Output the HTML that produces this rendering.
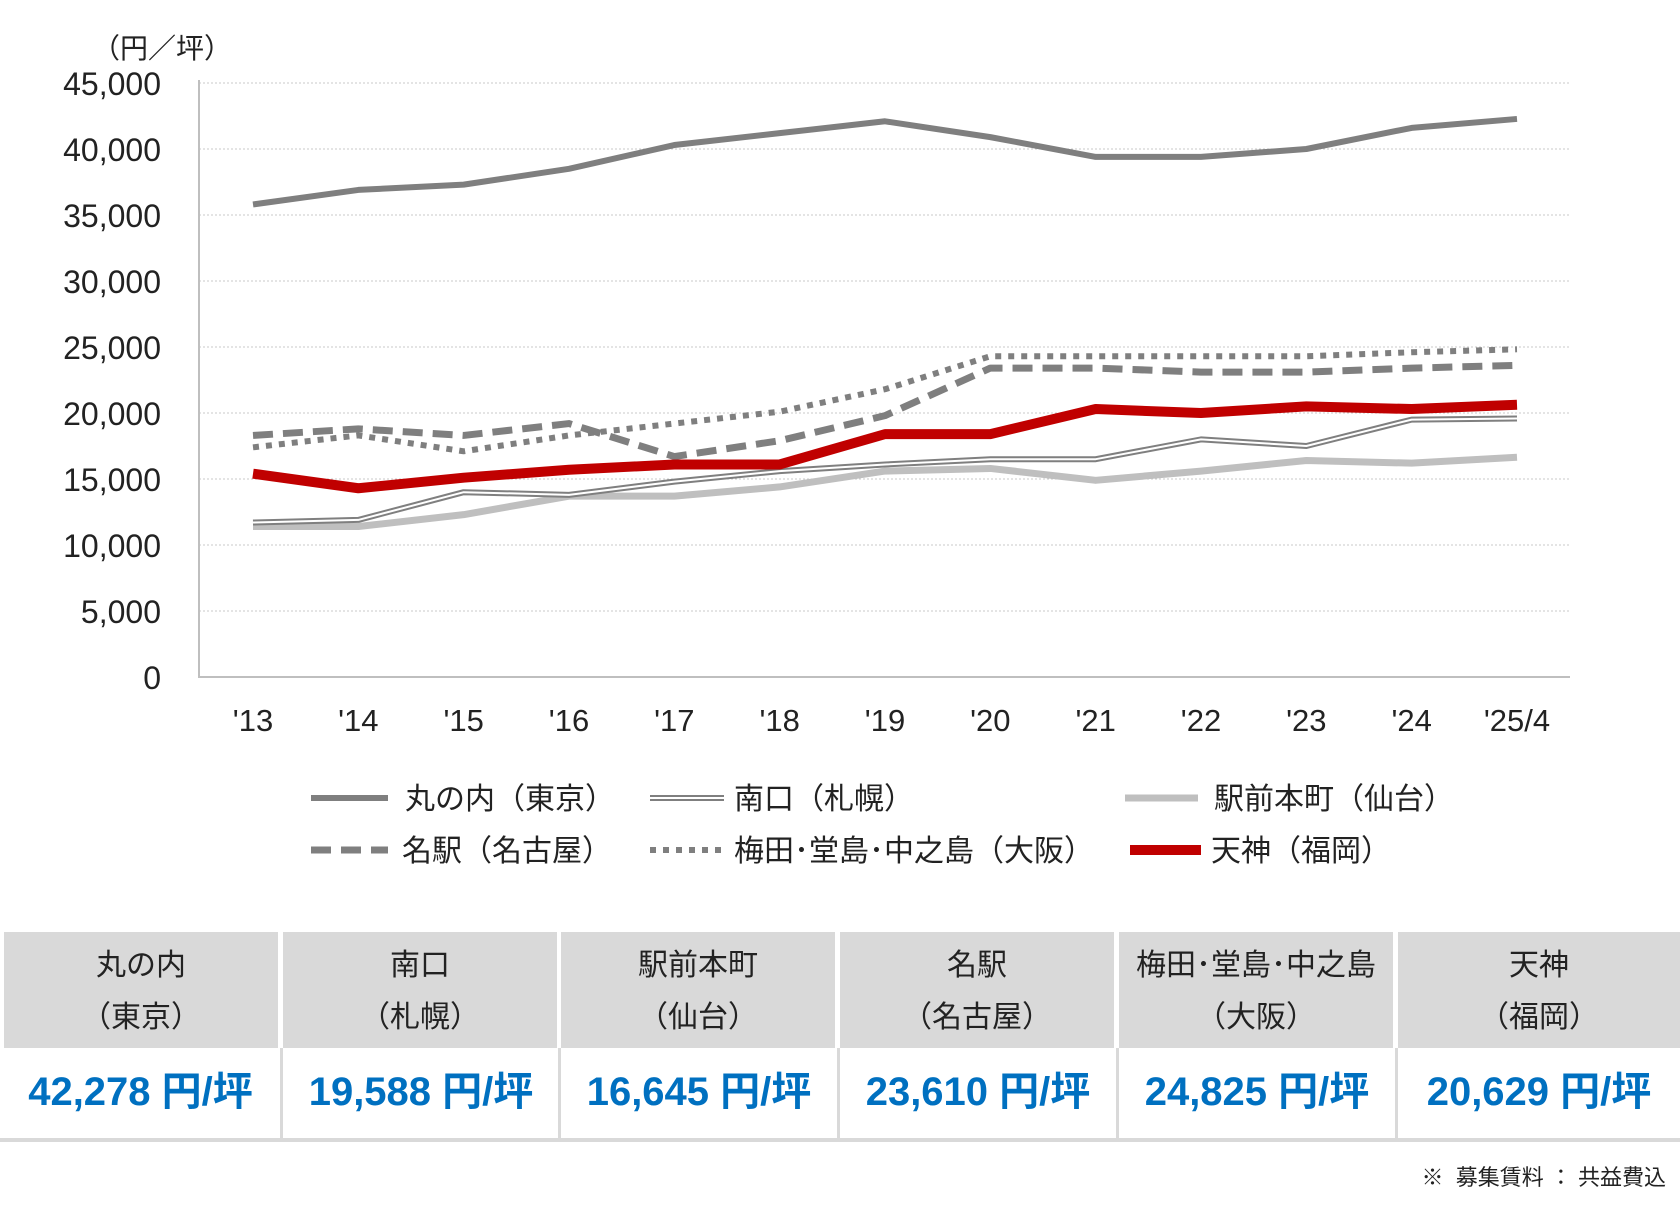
<!DOCTYPE html>
<html><head><meta charset="utf-8"><style>
body{margin:0;width:1680px;height:1220px;background:#fff;overflow:hidden;font-family:"Liberation Sans","Noto Sans CJK JP",sans-serif;}
svg text{font-family:"Liberation Sans","Noto Sans CJK JP",sans-serif;}
.tbl{position:absolute;left:0;top:932px;width:1680px;}
.cell{position:absolute;text-align:center;}
.hd{background:#d9d9d9;top:0;height:116px;color:#222;font-size:30px;line-height:52px;padding-top:8px;box-sizing:border-box;}
.vl{top:116px;height:92px;color:#0070c0;font-size:40px;font-weight:bold;line-height:88px;border-left:3px solid #d9d9d9;box-sizing:border-box;}
</style></head><body>
<svg id="chart" width="1680" height="900" style="position:absolute;left:0;top:0"></svg>
<div class="tbl" id="tbl"></div>
<div style="position:absolute;left:0;top:1138px;width:1680px;height:4px;background:#d9d9d9"></div>
<div style="position:absolute;right:14px;top:1160px;font-size:22px;color:#222">※&nbsp; 募集賃料 ： 共益費込</div>
<script>
const years=["'13","'14","'15","'16","'17","'18","'19","'20","'21","'22","'23","'24","'25/4"];
const yTicks=[0,5000,10000,15000,20000,25000,30000,35000,40000,45000];
const marunouchi=[35800,36900,37300,38500,40300,41200,42100,40900,39400,39400,40000,41600,42278];
const sapporo=[11700,11900,14000,13800,14800,15600,16100,16500,16500,18000,17500,19500,19588];
const sendai=[11400,11400,12300,13700,13700,14400,15600,15800,14900,15600,16400,16200,16645];
const nagoya=[18300,18800,18300,19200,16700,17900,19800,23400,23400,23100,23100,23400,23610];
const osaka=[17400,18300,17100,18300,19200,20100,21800,24300,24300,24300,24300,24600,24825];
const tenjin=[15400,14300,15100,15700,16100,16100,18400,18400,20300,20000,20500,20300,20629];
const tableNames=[["丸の内","（東京）"],["南口","（札幌）"],["駅前本町","（仙台）"],["名駅","（名古屋）"],["梅田･堂島･中之島","（大阪）"],["天神","（福岡）"]];
const tableValues=["42,278 円/坪","19,588 円/坪","16,645 円/坪","23,610 円/坪","24,825 円/坪","20,629 円/坪"];

const NS="http://www.w3.org/2000/svg",svg=document.getElementById('chart');
const X0=199,X1=1570,Y0=677,Y45=83;
const xs=i=>253+i*(1517-253)/(years.length-1);
const ys=v=>Y0-(v/45000)*(Y0-Y45);
function mk(t,a,p){const e=document.createElementNS(NS,t);for(const k in a)e.setAttribute(k,a[k]);(p||svg).appendChild(e);return e;}
yTicks.forEach(v=>{
  if(v>0){const g=mk('line',{x1:X0,x2:X1,y1:ys(v),y2:ys(v),stroke:'#c8c8c8','stroke-width':1,'stroke-dasharray':'2,2'});
  
  }
  const t=mk('text',{x:161,y:ys(v)+12,'text-anchor':'end','font-size':32,fill:'#222'});
  
  
  t.textContent=v.toLocaleString('en-US');
});
const ax=mk('path',{d:`M${X0},${Y45-3}V${Y0}H${X1}`,fill:'none',stroke:'#bfbfbf','stroke-width':2});


const ut=mk('text',{x:92,y:58,'font-size':28,fill:'#222'});


ut.textContent='（円／坪）';
years.forEach((y,i)=>{const t=mk('text',{x:xs(i),y:731,'text-anchor':'middle','font-size':31,fill:'#222'});
  
  
  t.textContent=y;});
function pts(a){return a.map((v,i)=>xs(i)+','+ys(v)).join(' ');}
function line(a,st,name){const p=mk('polyline',Object.assign({points:pts(a),fill:'none','stroke-linejoin':'round'},st));
  
  return p;}
const S={
 sendai:{stroke:'#bfbfbf','stroke-width':7},
 sapporo:{stroke:'#7f7f7f','stroke-width':6},
 sapIn:{stroke:'#fff','stroke-width':2},
 maru:{stroke:'#7f7f7f','stroke-width':6},
 nagoya:{stroke:'#7f7f7f','stroke-width':7,'stroke-dasharray':'20,10'},
 osaka:{stroke:'#7f7f7f','stroke-width':6,'stroke-dasharray':'6,7'},
 tenjin:{stroke:'#c00000','stroke-width':10}
};
line(sendai,S.sendai,'line-sendai');
line(sapporo,S.sapporo,'line-sapporo');
line(sapporo,S.sapIn,'line-sapporo-inner');
line(marunouchi,S.maru,'line-marunouchi');
line(nagoya,S.nagoya,'line-nagoya');
line(osaka,S.osaka,'line-osaka');
line(tenjin,S.tenjin,'line-tenjin');
const leg=[
 [311,388,405,798,'丸の内（東京）',[S.maru]],
 [650,724,734,798,'南口（札幌）',[S.sapporo,S.sapIn]],
 [1125,1198,1214,798,'駅前本町（仙台）',[S.sendai]],
 [311,388,402,850,'名駅（名古屋）',[S.nagoya]],
 [650,724,734,850,'梅田･堂島･中之島（大阪）',[S.osaka]],
 [1130,1201,1211,850,'天神（福岡）',[S.tenjin]]];
leg.forEach(l=>{
  const g=mk('g',{});
  
  
  l[5].forEach(st=>mk('line',Object.assign({x1:l[0],x2:l[1],y1:l[3],y2:l[3]},st),g));
  const t=mk('text',{x:l[2],y:l[3]+11,'font-size':30,fill:'#222'},g);t.textContent=l[4];
});
const tb=document.getElementById('tbl');
const colL=[4,283,561,840,1119,1398],colW=274;
tableNames.forEach((n,i)=>{
  const h=document.createElement('div');h.className='cell hd';
  
  
  h.style.left=colL[i]+'px';h.style.width=(i==5?1680-colL[i]:colW)+'px';
  h.innerHTML=n[0]+'<br>'+n[1];tb.appendChild(h);
  const v=document.createElement('div');v.className='cell vl';
  
  
  v.style.left=(colL[i]-3)+'px';v.style.width=(i==5?1683-colL[i]:colW+5)+'px';
  if(i==0)v.style.borderLeft='none';
  v.textContent=tableValues[i];tb.appendChild(v);
});
</script>
</body></html>
